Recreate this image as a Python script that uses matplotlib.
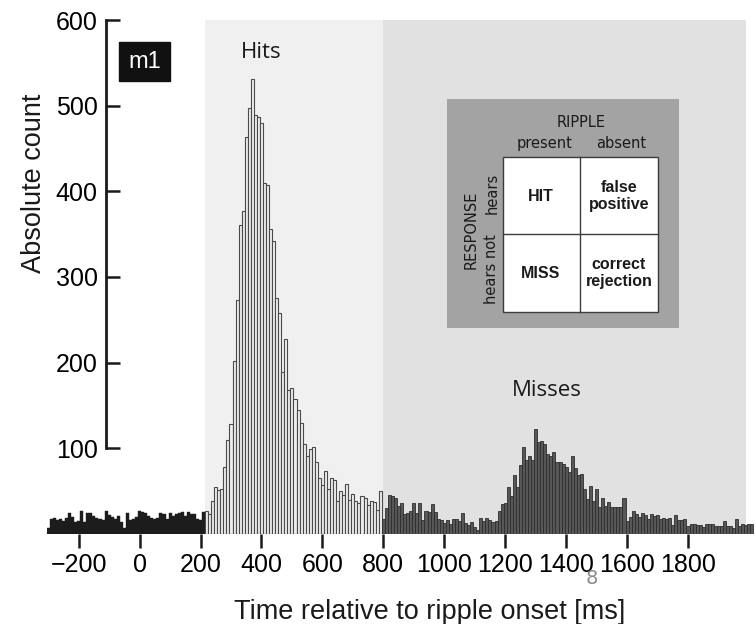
import numpy as np
import matplotlib.pyplot as plt
from matplotlib.patches import Rectangle

W, H = 755, 624

# histogram, 10 ms bins starting at -305 ms
bin_width = 10
first_edge = -305

pre_counts = [7, 18, 19, 16, 18, 15, 19, 25, 20, 14,
              15, 27, 14, 25, 24, 21, 19, 18, 16, 27,
              22, 20, 18, 21, 14, 7, 24, 16, 18, 20,
              27, 26, 24, 21, 19, 18, 19, 24, 23, 18,
              24, 21, 23, 24, 26, 21, 26, 23, 23, 18,
              16, 26]

hit_counts = [27, 23, 38, 55, 51, 52, 78, 110, 128, 202,
              273, 361, 377, 463, 497, 531, 489, 487, 480, 410,
              407, 356, 342, 275, 258, 189, 228, 168, 170, 158,
              145, 129, 105, 91, 99, 102, 84, 65, 57, 74,
              52, 65, 63, 38, 50, 46, 58, 40, 47, 39,
              36, 44, 42, 34, 39, 37, 28, 50]

miss_counts = [18, 30, 45, 44, 42, 33, 36, 23, 24, 27,
               36, 24, 36, 16, 27, 26, 35, 26, 18, 16,
               13, 16, 12, 17, 18, 15, 25, 13, 10, 14,
               8, 5, 19, 15, 19, 16, 14, 15, 27, 35,
               36, 55, 44, 69, 55, 80, 101, 86, 91, 86,
               122, 107, 109, 105, 93, 91, 96, 84, 84, 82,
               78, 72, 91, 77, 69, 70, 53, 41, 56, 39,
               53, 32, 42, 33, 37, 31, 31, 32, 32, 42,
               15, 20, 27, 23, 20, 25, 22, 17, 23, 21,
               22, 17, 19, 17, 19, 11, 22, 16, 16, 17,
               9, 12, 12, 10, 11, 8, 12, 12, 12, 9,
               9, 9, 15, 9, 9, 7, 17, 9, 12, 11,
               12, 12]

xticks = [-200, 0, 200, 400, 600, 800, 1000, 1200, 1400, 1600, 1800]
yticks = [100, 200, 300, 400, 500, 600]
hits_span = (215, 800)
miss_span = (800, 1990)


def fx(x):
    return x / W


def fy(y):
    return 1 - y / H


fig = plt.figure(figsize=(W / 100, H / 100), dpi=100)
fig.patch.set_facecolor('white')

ax = fig.add_axes([fx(46.7), fy(534), (755 - 46.7) / W, (534 - 20) / H])
ax.set_xlim(-305, 2020)
ax.set_ylim(0, 600)
ax.patch.set_alpha(0)

ax.axvspan(*hits_span, color='#f0f0f0', lw=0, zorder=0)
ax.axvspan(*miss_span, color='#e1e1e1', lw=0, zorder=0)

n_pre, n_hit = len(pre_counts), len(hit_counts)
pre_x = first_edge + bin_width * np.arange(n_pre)
hit_x = first_edge + bin_width * (n_pre + np.arange(n_hit))
miss_x = first_edge + bin_width * (n_pre + n_hit + np.arange(len(miss_counts)))

ax.bar(pre_x, pre_counts, width=bin_width, align='edge',
       color='#1c1c1c', edgecolor='#1c1c1c', lw=0.3, zorder=2)
ax.bar(hit_x, hit_counts, width=bin_width, align='edge',
       color='#ededed', edgecolor='#4a4a4a', lw=0.8, zorder=2)
ax.bar(miss_x, miss_counts, width=bin_width, align='edge',
       color='#575757', edgecolor='#2e2e2e', lw=0.6, zorder=2)

# axes styling
tick_font = dict(family='Liberation Sans', size=18)
ax.spines['top'].set_visible(False)
ax.spines['right'].set_visible(False)
ax.spines['bottom'].set_visible(False)
ax.spines['left'].set_position(('data', -110))
ax.spines['left'].set_bounds(100, 600)
ax.spines['left'].set_linewidth(2)
ax.spines['left'].set_color('#1a1a1a')

ax.set_xticks(xticks)
ax.set_xticklabels([str(t).replace('-', '\u2212') for t in xticks], fontdict=tick_font)
ax.set_yticks(yticks)
ax.set_yticklabels([str(t) for t in yticks], fontdict=tick_font)
ax.tick_params(axis='x', direction='out', length=10, width=1.8, color='#1a1a1a', pad=4)
ax.tick_params(axis='y', direction='in', length=10, width=1.8, color='#1a1a1a', pad=6)

fig.text(fx(430), fy(619), 'Time relative to ripple onset [ms]', ha='center', va='baseline',
         family='Liberation Sans', size=19.5, color='#1a1a1a')
fig.text(fx(34), fy(183), 'Absolute count', ha='center', va='center', rotation=90,
         family='Liberation Sans', size=19.5, color='#1a1a1a')

# labels on the plot
fig.add_artist(Rectangle((fx(119), fy(81)), 51 / W, 39 / H, transform=fig.transFigure,
                         color='#111111', zorder=5))
fig.text(fx(144.5), fy(62), 'm1', ha='center', va='center', color='white',
         family='Liberation Sans', size=17, zorder=6)
fig.text(fx(261), fy(52), 'Hits', ha='center', va='center', family='Open Sans', size=16,
         color='#1a1a1a')
fig.text(fx(547), fy(391), 'Misses', ha='center', va='center', family='Open Sans', size=16,
         color='#1a1a1a')
fig.text(fx(592), fy(578), '8', ha='center', va='center', family='DejaVu Sans', size=14,
         color='#8c8c8c')

# inset: signal detection table
ins = fig.add_axes([fx(447), fy(328), 232 / W, 229 / H])
ins.set_xlim(447, 679)
ins.set_ylim(328, 99)
ins.set_facecolor('#a3a3a3')
ins.set_xticks([])
ins.set_yticks([])
for s in ins.spines.values():
    s.set_visible(False)

ins.add_patch(Rectangle((503, 157), 155, 155, facecolor='white', edgecolor='#3c3c3c', lw=1))
ins.plot([580, 580], [157, 312], color='#3c3c3c', lw=1)
ins.plot([503, 658], [234, 234], color='#3c3c3c', lw=1)

lab = dict(family='DejaVu Sans', size=10.5, color='#1a1a1a', ha='center', va='center')
ins.text(581, 122, 'RIPPLE', **lab)
ins.text(545, 143, 'present', **lab)
ins.text(621, 143, 'absent', **lab)
ins.text(471, 230, 'RESPONSE', rotation=90, **lab)
ins.text(492, 193, 'hears', rotation=90, **lab)
ins.text(492, 269, 'hears not', rotation=90, **lab)

cell = dict(family='Liberation Sans', weight='bold', size=11.5, color='#1a1a1a',
            ha='center', va='center', linespacing=1.1)
ins.text(541, 196, 'HIT', **cell)
ins.text(619, 196, 'false\npositive', **cell)
ins.text(541, 273, 'MISS', **cell)
ins.text(619, 273, 'correct\nrejection', **cell)

fig.savefig('out.png', dpi=100)
